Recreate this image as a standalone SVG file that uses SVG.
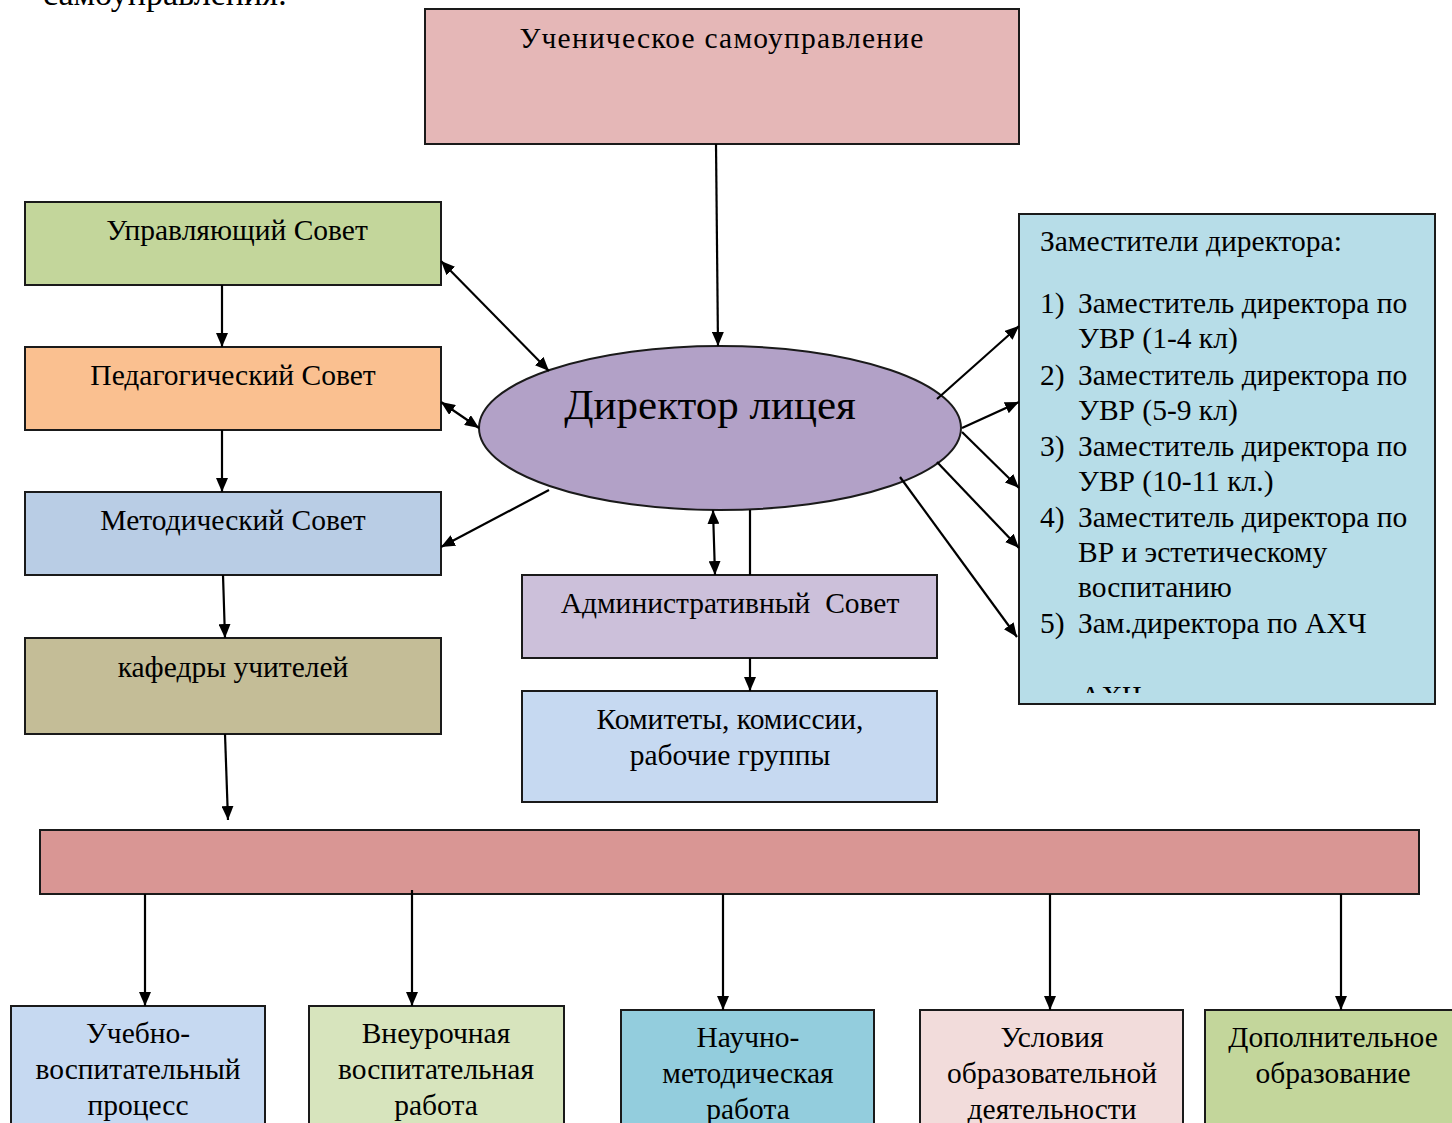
<svg xmlns="http://www.w3.org/2000/svg" width="1452" height="1123" viewBox="0 0 1452 1123">
<style>
.box{stroke:#1a1a1a;stroke-width:2}
.t{font-family:"Liberation Serif","Times New Roman",serif;font-size:29.5px;fill:#000}
.c{text-anchor:middle}
.ln{stroke:#000;stroke-width:2.2;fill:none}
</style>
<defs>
<marker id="ah" viewBox="0 0 14 12" refX="14" refY="6" markerWidth="14" markerHeight="12" markerUnits="userSpaceOnUse" orient="auto-start-reverse">
<path d="M0,0 L14,6 L0,12 Z" fill="#000"/>
</marker>
<clipPath id="clipR"><rect x="1020" y="215" width="414" height="478"/></clipPath>
</defs>
<rect width="1452" height="1123" fill="#fff"/>
<text class="t" x="43" y="5" style="font-size:34px">самоуправления:</text>

<g id="n-top"><rect class="box" x="425" y="9" width="594" height="135" fill="#e5b7b7"/><text class="t c" x="722" y="48" style="letter-spacing:1.2px">Ученическое самоуправление</text></g>

<g id="n-upr"><rect class="box" x="25" y="202" width="416" height="83" fill="#c3d69b"/><text class="t c" x="237" y="240">Управляющий Совет</text></g>
<g id="n-ped"><rect class="box" x="25" y="347" width="416" height="83" fill="#fac090"/><text class="t c" x="233" y="385">Педагогический Совет</text></g>
<g id="n-met"><rect class="box" x="25" y="492" width="416" height="83" fill="#b9cde5"/><text class="t c" x="233" y="530">Методический Совет</text></g>
<g id="n-kaf"><rect class="box" x="25" y="638" width="416" height="96" fill="#c4bd97"/><text class="t c" x="233" y="677">кафедры учителей</text></g>

<g id="n-dir"><ellipse class="box" cx="720" cy="428" rx="241" ry="82" fill="#b2a1c7"/><text class="t c" x="710" y="419" style="font-size:43px">Директор лицея</text></g>

<g id="n-adm"><rect class="box" x="522" y="575" width="415" height="83" fill="#ccc0da"/><text class="t c" x="730" y="613" xml:space="preserve">Административный  Совет</text></g>
<g id="n-kom"><rect class="box" x="522" y="691" width="415" height="111" fill="#c6d9f1"/><text class="t c" x="730" y="729">Комитеты, комиссии,</text><text class="t c" x="730" y="765">рабочие группы</text></g>

<g id="n-zam"><rect class="box" x="1019" y="214" width="416" height="490" fill="#b7dde8"/>
<text class="t" x="1040" y="251">Заместители директора:</text>
<text class="t" x="1040" y="313">1)</text><text class="t" x="1078" y="313">Заместитель директора по</text><text class="t" x="1078" y="348">УВР (1-4 кл)</text>
<text class="t" x="1040" y="385">2)</text><text class="t" x="1078" y="385">Заместитель директора по</text><text class="t" x="1078" y="420">УВР (5-9 кл)</text>
<text class="t" x="1040" y="456">3)</text><text class="t" x="1078" y="456">Заместитель директора по</text><text class="t" x="1078" y="491">УВР (10-11 кл.)</text>
<text class="t" x="1040" y="527">4)</text><text class="t" x="1078" y="527">Заместитель директора по</text><text class="t" x="1078" y="562">ВР и эстетическому</text><text class="t" x="1078" y="597">воспитанию</text>
<text class="t" x="1040" y="633">5)</text><text class="t" x="1078" y="633">Зам.директора по АХЧ</text>
<text class="t" x="1080" y="706" clip-path="url(#clipR)">АХЧ</text>
</g>

<g id="n-bar"><rect class="box" x="40" y="830" width="1379" height="64" fill="#d99694"/></g>

<g id="n-b1"><rect class="box" x="11" y="1006" width="254" height="130" fill="#c6d9f1"/><text class="t c" x="138" y="1043">Учебно-</text><text class="t c" x="138" y="1079">воспитательный</text><text class="t c" x="138" y="1115">процесс</text></g>
<g id="n-b2"><rect class="box" x="309" y="1006" width="255" height="130" fill="#d7e4bd"/><text class="t c" x="436" y="1043">Внеурочная</text><text class="t c" x="436" y="1079">воспитательная</text><text class="t c" x="436" y="1115">работа</text></g>
<g id="n-b3"><rect class="box" x="621" y="1010" width="253" height="130" fill="#93cddd"/><text class="t c" x="748" y="1047">Научно-</text><text class="t c" x="748" y="1083">методическая</text><text class="t c" x="748" y="1119">работа</text></g>
<g id="n-b4"><rect class="box" x="920" y="1010" width="263" height="130" fill="#f2dcdb"/><text class="t c" x="1052" y="1047">Условия</text><text class="t c" x="1052" y="1083">образовательной</text><text class="t c" x="1052" y="1119">деятельности</text></g>
<g id="n-b5"><rect class="box" x="1205" y="1010" width="260" height="130" fill="#c3d69b"/><text class="t c" x="1333" y="1047">Дополнительное</text><text class="t c" x="1333" y="1083">образование</text></g>

<g id="connectors">
<line class="ln" x1="716" y1="144" x2="718" y2="346" marker-end="url(#ah)"/>
<line class="ln" x1="441" y1="261" x2="549" y2="371" marker-start="url(#ah)" marker-end="url(#ah)"/>
<line class="ln" x1="441" y1="402" x2="479" y2="428" marker-start="url(#ah)" marker-end="url(#ah)"/>
<line class="ln" x1="549" y1="490" x2="441" y2="547" marker-end="url(#ah)"/>
<line class="ln" x1="713" y1="510" x2="715" y2="575" marker-start="url(#ah)" marker-end="url(#ah)"/>
<line class="ln" x1="750" y1="510" x2="750" y2="575"/>
<line class="ln" x1="750" y1="658" x2="750" y2="691" marker-end="url(#ah)"/>
<line class="ln" x1="222" y1="285" x2="222" y2="347" marker-end="url(#ah)"/>
<line class="ln" x1="222" y1="430" x2="222" y2="492" marker-end="url(#ah)"/>
<line class="ln" x1="223" y1="575" x2="225" y2="638" marker-end="url(#ah)"/>
<line class="ln" x1="225" y1="734" x2="228" y2="820" marker-end="url(#ah)"/>
<line class="ln" x1="937" y1="399" x2="1019" y2="326" marker-end="url(#ah)"/>
<line class="ln" x1="962" y1="428" x2="1019" y2="402" marker-end="url(#ah)"/>
<line class="ln" x1="962" y1="432" x2="1019" y2="488" marker-end="url(#ah)"/>
<line class="ln" x1="937" y1="462" x2="1019" y2="548" marker-end="url(#ah)"/>
<line class="ln" x1="900" y1="477" x2="1017" y2="637" marker-end="url(#ah)"/>
<line class="ln" x1="145" y1="894" x2="145" y2="1006" marker-end="url(#ah)"/>
<line class="ln" x1="412" y1="890" x2="412" y2="1006" marker-end="url(#ah)"/>
<line class="ln" x1="723" y1="894" x2="723" y2="1010" marker-end="url(#ah)"/>
<line class="ln" x1="1050" y1="894" x2="1050" y2="1010" marker-end="url(#ah)"/>
<line class="ln" x1="1341" y1="894" x2="1341" y2="1010" marker-end="url(#ah)"/>
</g>
</svg>
